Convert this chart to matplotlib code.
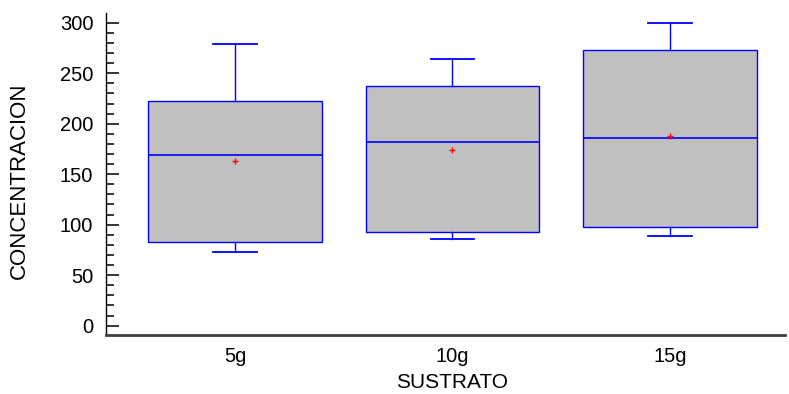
import matplotlib
matplotlib.use("Agg")
import matplotlib.pyplot as plt
from matplotlib.ticker import MultipleLocator

# data
categories = ["5g", "10g", "15g"]
whisker_low = [73, 86, 89]
q1 = [83, 93, 98]
medians = [169, 182, 186]
means = [163, 174, 188]
q3 = [223, 237, 273]
whisker_high = [279, 264, 300]

plt.rcParams.update({
    "font.family": ["Liberation Sans", "DejaVu Sans"],
    "font.size": 14.5,
})

fig = plt.figure(figsize=(7.89, 3.94), dpi=100)
ax = fig.add_axes([0.134, 0.150, 0.861, 0.816])

stats = []
for i, name in enumerate(categories):
    stats.append({
        "label": name,
        "whislo": whisker_low[i],
        "q1": q1[i],
        "med": medians[i],
        "mean": means[i],
        "q3": q3[i],
        "whishi": whisker_high[i],
        "fliers": [],
    })

blue = "#0000FF"
ax.bxp(
    stats,
    positions=[1, 2, 3],
    widths=0.8,
    patch_artist=True,
    showmeans=True,
    showfliers=False,
    boxprops=dict(facecolor="#C0C0C0", edgecolor=blue, linewidth=1.0),
    medianprops=dict(color=blue, linewidth=1.2),
    whiskerprops=dict(color=blue, linewidth=1.0),
    capprops=dict(color=blue, linewidth=1.3),
    capwidths=0.2,
    meanprops=dict(marker="+", markeredgecolor="red", markersize=4, markeredgewidth=1.0),
)

ax.set_xlim(0.405, 3.53)
ax.set_ylim(-9.2, 309.3)
ax.yaxis.set_major_locator(MultipleLocator(50))
ax.yaxis.set_minor_locator(MultipleLocator(10))
ax.tick_params(axis="y", which="major", direction="in", length=9.5, width=1.1, pad=9, colors="black")
ax.tick_params(axis="y", which="minor", direction="in", length=5.5, width=1.1)
ax.tick_params(axis="x", length=0, pad=9)

ax.spines["top"].set_visible(False)
ax.spines["right"].set_visible(False)
ax.spines["left"].set_linewidth(1.0)
ax.spines["bottom"].set_linewidth(2.0)
ax.spines["bottom"].set_color("#404040")

ax.set_xlabel("SUSTRATO", fontsize=15)
ax.set_ylabel("CONCENTRACION", fontsize=16)
ax.xaxis.set_label_coords(0.5105, -0.118)
ax.yaxis.set_label_coords(-0.1276, 0.48)
ax.yaxis.label.set_verticalalignment("center")

fig.savefig("out.png", dpi=100)
